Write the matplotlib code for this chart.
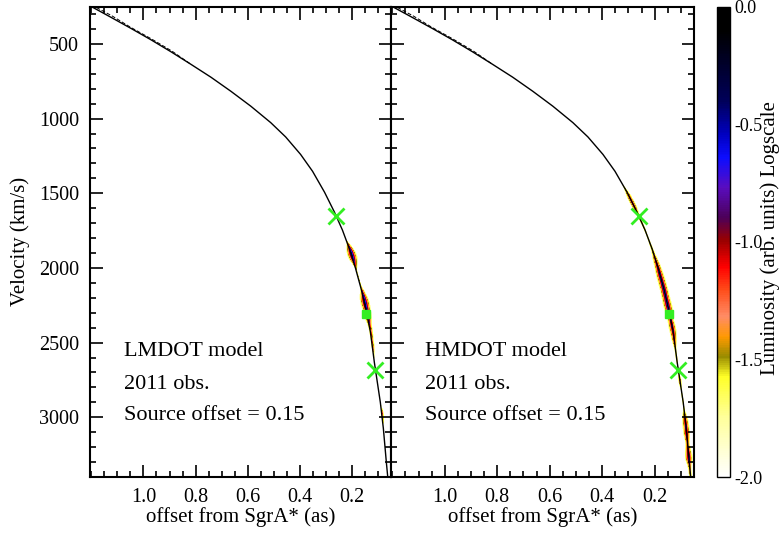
import numpy as np
import matplotlib
matplotlib.use("Agg")
import matplotlib.pyplot as plt
from matplotlib.colors import LinearSegmentedColormap, Normalize
from matplotlib.cm import ScalarMappable
from matplotlib.ticker import MultipleLocator

plt.rcParams['font.family'] = ['Liberation Serif', 'DejaVu Serif']
plt.rcParams['axes.unicode_minus'] = False

# model curve (offset in arcsec, velocity in km/s)
curve_x = [1.200, 1.1235, 1.047, 0.9706, 0.8941, 0.8176, 0.7411, 0.6647, 0.5882,
           0.5118, 0.4544, 0.3971, 0.3512, 0.3053, 0.2671, 0.2365, 0.2097, 0.1868,
           0.1638, 0.1447, 0.1294, 0.1141, 0.1026, 0.0912, 0.0797, 0.0682, 0.0624]
curve_v = [250, 323, 397, 473, 553, 637, 723, 817, 917,
           1027, 1123, 1240, 1353, 1493, 1627, 1747, 1873, 2000,
           2147, 2293, 2427, 2633, 2767, 2900, 3073, 3300, 3407]
# second (dashed) track near the top left
dash_x = [1.20, 1.12, 1.05, 0.97, 0.89, 0.82]
dash_v = [238, 313, 388, 466, 549, 634]

# green markers
cross_x = [0.26, 0.11]
cross_v = [1650, 2685]
square_x = [0.145]
square_v = [2310]

# emission blobs: centre velocity, spread, peak log luminosity
lm_vc = [1915, 2080, 2230, 2320, 2420, 2520, 2985]
lm_sv = [38, 60, 42, 38, 40, 45, 35]
lm_pk = [-0.2, -1.5, -0.25, -0.5, -1.0, -1.1, -1.1]

hm_vc = [1520, 1580, 1700, 1860, 1960, 2050, 2150, 2260, 2400, 2480, 2600,
         2755, 2880, 3030, 3110, 3200, 3265, 3370]
hm_sv = [45, 40, 60, 55, 40, 50, 50, 50, 45, 35, 70,
         30, 60, 40, 40, 30, 35, 45]
hm_pk = [-0.95, -0.85, -1.2, -1.25, -0.85, -0.45, -0.4, -0.3, -0.5, -0.95, -1.3,
         -1.05, -1.35, -0.65, -0.6, -1.05, -0.45, -1.05]

panel_text = ["LMDOT model", "HMDOT model"]
note_lines = ["2011 obs.", "Source offset = 0.15"]

cb_nodes = [0.0, 0.127, 0.212, 0.255, 0.297, 0.340, 0.397, 0.446, 0.503,
            0.552, 0.616, 0.679, 0.730, 0.800, 0.949, 1.0]
cb_cols = [(1, 1, 1), (1, 1, 0.6), (1, 1, 0.15), (0.6, 0.55, 0.0), (1, 0.6, 0.0),
           (1, 0.55, 0.4), (1, 0.3, 0.1), (1, 0, 0), (0.6, 0, 0),
           (0.3, 0, 0.35), (0.35, 0.05, 0.75), (0.05, 0.05, 1), (0, 0, 0.75),
           (0, 0, 0.35), (0, 0, 0), (0, 0, 0)]
cmap = LinearSegmentedColormap.from_list("lum", list(zip(cb_nodes, cb_cols)))
norm = Normalize(-2.0, 0.0)


def blob_field(vc, sv, pk):
    xg = np.linspace(0.03, 0.40, 600)
    vg = np.linspace(1300, 3400, 1200)
    X, V = np.meshgrid(xg, vg)
    cx = np.interp(V, curve_v, curve_x)
    amp = np.zeros_like(V)
    for c, s, p in zip(vc, sv, pk):
        amp += 10**p * np.exp(-0.5 * ((V - c) / s)**2)
    # distance from the track, scaled so the halo is a few pixels wide
    d = np.abs(X - cx) / 0.0044
    f = np.log10(amp + 1e-30) - 0.6 * d**0.7
    f = np.where(f < -1.9, np.nan, np.minimum(f, 0))
    return f, (xg[0], xg[-1], vg[-1], vg[0])


fig = plt.figure(figsize=(7.82, 5.33), dpi=100)
axL = fig.add_axes([0.1151, 0.105, 0.385, 0.8827])
axR = fig.add_axes([0.5, 0.105, 0.3875, 0.8827])
cax = fig.add_axes([0.9169, 0.105, 0.0166, 0.8827])

blobs = [(lm_vc, lm_sv, lm_pk), (hm_vc, hm_sv, hm_pk)]
for i, ax in enumerate([axL, axR]):
    f, ext = blob_field(*blobs[i])
    ax.imshow(f, extent=ext, origin='upper', aspect='auto', cmap=cmap,
              norm=norm, interpolation='nearest', zorder=1)
    ax.plot(curve_x, curve_v, color='black', lw=1.0, zorder=3)
    ax.plot(dash_x, dash_v, color='black', lw=0.7, ls=(0, (4, 2)), zorder=3)
    ax.plot(cross_x, cross_v, ls='none', marker='x', ms=11, mew=2,
            color='#33ee22', zorder=4)
    ax.plot(square_x, square_v, ls='none', marker='s', ms=6,
            color='#33ee22', zorder=4)
    ax.set_xlim(1.205, 0.05)
    ax.set_ylim(3400, 250)
    ax.xaxis.set_minor_locator(MultipleLocator(0.05))
    ax.yaxis.set_major_locator(MultipleLocator(500))
    ax.yaxis.set_minor_locator(MultipleLocator(100))
    ax.set_xticks([1.0, 0.8, 0.6, 0.4, 0.2])
    ax.set_xticklabels(['1.0', '0.8', '0.6', '0.4', '0.2'])
    ax.tick_params(which='both', direction='in', top=True, right=True,
                   width=1.2, labelsize=14.5, pad=8)
    ax.tick_params(which='major', length=9)
    ax.tick_params(which='minor', length=4.5)
    for sp in ax.spines.values():
        sp.set_linewidth(1.5)
    ax.set_xlabel("offset from SgrA* (as)", fontsize=15, labelpad=0)
    ax.text(1.075, 2560, panel_text[i], fontsize=16, va='center')
    ax.text(1.075, 2780, note_lines[0], fontsize=16, va='center')
    ax.text(1.075, 2990, note_lines[1], fontsize=16, va='center')

axL.set_ylabel("Velocity (km/s)", fontsize=15, labelpad=6)
axR.tick_params(labelleft=False)

cb = fig.colorbar(ScalarMappable(norm=norm, cmap=cmap), cax=cax)
cb.set_ticks([0.0, -0.5, -1.0, -1.5, -2.0])
cb.set_ticklabels(['0.0', '-0.5', '-1.0', '-1.5', '-2.0'])
cb.ax.tick_params(length=0, labelsize=13, pad=3)
cb.outline.set_linewidth(1.0)
fig.text(0.985, 0.553, "Luminosity (arb. units) Logscale", rotation=90,
         fontsize=15, ha='center', va='center')

fig.savefig("out.png", dpi=100)
